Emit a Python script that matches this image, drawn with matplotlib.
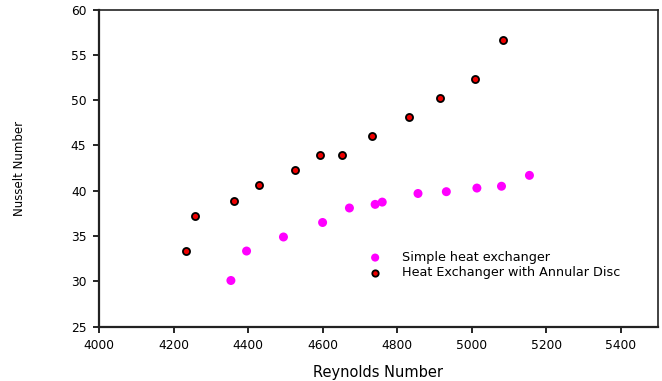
import matplotlib
matplotlib.use("Agg")
import matplotlib.pyplot as plt

# Nusselt number vs Reynolds number for the two exchanger configurations
re_simple = [4354, 4396, 4495, 4600, 4672, 4741, 4760, 4856, 4932, 5014, 5080, 5155]
nu_simple = [30.1, 33.35, 34.9, 36.5, 38.1, 38.5, 38.75, 39.7, 39.9, 40.3, 40.5, 41.7]

re_disc = [4233, 4257, 4362, 4430, 4526, 4594, 4652, 4732, 4832, 4916, 5010, 5083]
nu_disc = [33.3, 37.2, 38.9, 40.6, 42.3, 44.0, 43.9, 46.0, 48.1, 50.2, 52.3, 56.6]

x_ticks = [4000, 4200, 4400, 4600, 4800, 5000, 5200, 5400]
y_ticks = [25, 30, 35, 40, 45, 50, 55, 60]

plt.rcParams["font.family"] = "DejaVu Sans"

fig = plt.figure(figsize=(6.62, 3.81), dpi=100)
ax = fig.add_axes([0.1495, 0.1425, 0.8445, 0.8325])

ax.scatter(re_simple, nu_simple, s=42, color="#ff00ff", edgecolors="none",
           label="Simple heat exchanger", zorder=3)
ax.scatter(re_disc, nu_disc, s=26, color="#ee0000", edgecolors="black",
           linewidths=1.3, label="Heat Exchanger with Annular Disc", zorder=3)

ax.set_xlim(4000, 5500)
ax.set_ylim(25, 60)
ax.set_xticks(x_ticks)
ax.set_yticks(y_ticks)
ax.tick_params(direction="out", length=4, width=1.2, labelsize=8.8, pad=5)

ax.spines["left"].set_linewidth(1.6)
ax.spines["bottom"].set_linewidth(1.6)
ax.spines["top"].set_linewidth(1.2)
ax.spines["right"].set_linewidth(1.2)
for sp in ax.spines.values():
    sp.set_color("#222222")

ax.set_xlabel("Reynolds Number", fontsize=10.5, labelpad=9)
ax.set_ylabel("Nusselt Number", fontsize=8.5, labelpad=32)

ax.legend(loc="upper left", bbox_to_anchor=(0.462, 0.255), frameon=False,
          fontsize=9.2, handletextpad=1.1, borderaxespad=0, labelspacing=0.2,
          scatterpoints=1, markerscale=0.9)

fig.savefig("out.png", dpi=100)
